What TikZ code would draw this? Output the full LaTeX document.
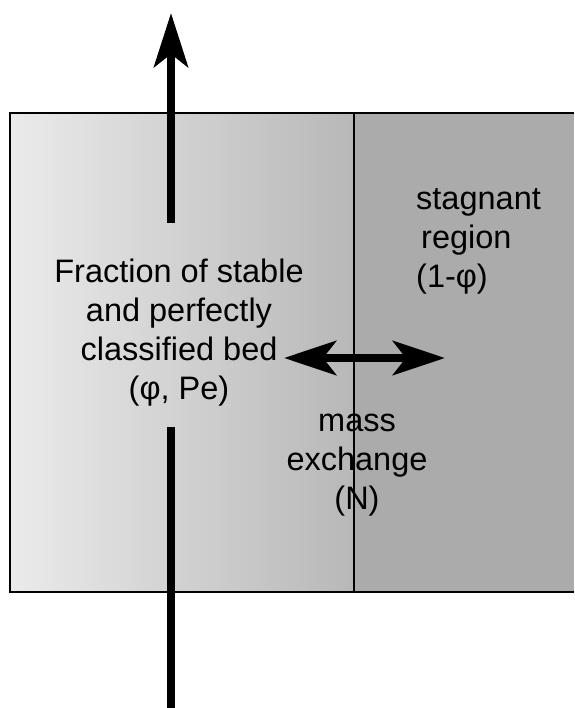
\documentclass[tikz,border=0pt]{standalone}
\usepackage{fontspec}
\setmainfont{Liberation Sans}
\usetikzlibrary{arrows.meta}

\begin{document}
\begin{tikzpicture}[x=1pt, y=-1pt,
  lbl/.style={font=\fontsize{32.5}{39}\selectfont, inner sep=0pt},
  shaft/.style={line width=8.5pt},
  flow/.style={shaft, -{Stealth[length=54pt, width=34pt, inset=13pt]}},
  xchg/.style={shaft, {Stealth[length=52pt, width=34pt, inset=13pt]}-{Stealth[length=52pt, width=34pt, inset=13pt]}},
  wall/.style={line width=2pt}
]
  \useasboundingbox (0,0) rectangle (574,708);

  % bed (graded) and stagnant region
  \shade[left color=black!8, right color=black!28] (10,113) rectangle (354,592);
  \fill[black!33] (354,113) rectangle (574,592);
  \draw[wall] (574,113) -- (10,113) -- (10,592) -- (574,592);

  % labels
  \node[lbl, align=center] (bed) at (179,333)
    {Fraction of stable\\and perfectly\\classified bed\\(φ, Pe)};
  \node[lbl, align=left, anchor=west] (stag) at (416,241)
    {stagnant\\\hspace{5pt}region\\(1-φ)};
  \node[lbl, align=center] (exch) at (357,465) {mass\\exchange\\(N)};

  % dividing wall between the two regions
  \draw[line width=1.6pt] (354,113) -- (354,592);

  % through-flow, broken round the label
  \coordinate (inlet) at (171,708);
  \coordinate (gaplow) at (171,427);
  \coordinate (gapup) at (171,223);
  \coordinate (outlet) at (171,13);
  \draw[shaft] (inlet) -- (gaplow);
  \draw[flow] (gapup) -- (outlet);

  % mass exchange
  \coordinate (xl) at (284,358);
  \coordinate (xr) at (445,358);
  \draw[xchg] (xl) -- (xr);
\end{tikzpicture}
\end{document}
